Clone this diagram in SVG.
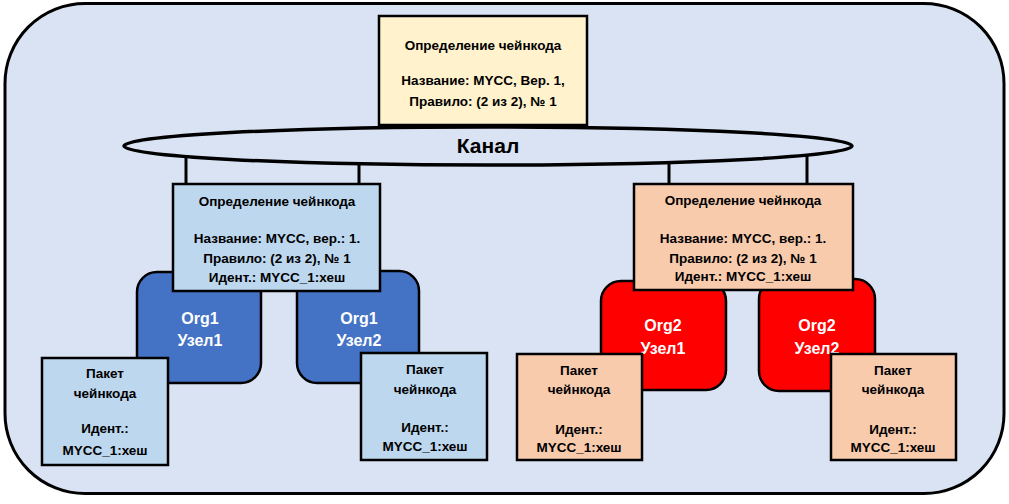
<svg xmlns="http://www.w3.org/2000/svg" width="1009" height="504" viewBox="0 0 1009 504">
<style>
.t{font-family:"Liberation Sans","Noto Sans",sans-serif;font-weight:bold;font-size:13.5px;fill:#000;text-anchor:middle}
.w{font-family:"Liberation Sans","Noto Sans",sans-serif;font-weight:bold;font-size:16px;fill:#fff;text-anchor:middle}
.k{font-family:"Liberation Sans","Noto Sans",sans-serif;font-weight:bold;font-size:21px;fill:#000;text-anchor:middle}
.box{stroke:#000;stroke-width:2.5}
.ln{stroke:#000;stroke-width:3;fill:none}
</style>
<rect id="bg" x="0" y="0" width="1009" height="504" fill="#fff"/>
<rect id="frame" x="5" y="3.5" width="999" height="490" rx="80" ry="80" fill="#DAE3F3" stroke="#000" stroke-width="3"/>
<g id="channel">
<ellipse cx="488" cy="146" rx="364" ry="19" fill="#DAE3F3" stroke="#000" stroke-width="3.5"/>
<text class="k" x="488" y="153">Канал</text>
</g>
<g id="connectors">
<line class="ln" x1="186" y1="156" x2="186" y2="184"/>
<line class="ln" x1="359" y1="162" x2="359" y2="184"/>
<line class="ln" x1="669" y1="162" x2="669" y2="184"/>
<line class="ln" x1="807" y1="156" x2="807" y2="184"/>
</g>
<g id="def-main">
<rect class="box" x="379" y="16" width="208" height="109" fill="#FFF2CC"/>
<text class="t" x="483" y="50">Определение чейнкода</text>
<text class="t" x="483" y="85">Название: MYCC, Вер. 1,</text>
<text class="t" x="483" y="106">Правило: (2 из 2), № 1</text>
</g>
<g id="org1-node1">
<rect class="box" x="137" y="272" width="124" height="111" rx="20" fill="#4472C4"/>
<text class="w" x="200" y="324">Org1</text>
<text class="w" x="200" y="346">Узел1</text>
</g>
<g id="org1-node2">
<rect class="box" x="297" y="271" width="122" height="112" rx="20" fill="#4472C4"/>
<text class="w" x="359" y="324">Org1</text>
<text class="w" x="359" y="346">Узел2</text>
</g>
<g id="org2-node1">
<rect class="box" x="601" y="281" width="125" height="109" rx="20" fill="#FF0000"/>
<text class="w" x="663" y="331">Org2</text>
<text class="w" x="663" y="354">Узел1</text>
</g>
<g id="org2-node2">
<rect class="box" x="759" y="279" width="116" height="112" rx="20" fill="#FF0000"/>
<text class="w" x="817" y="331">Org2</text>
<text class="w" x="817" y="354">Узел2</text>
</g>
<g id="def-org1">
<rect class="box" x="173" y="184" width="207" height="107" fill="#BDD7EE"/>
<text class="t" x="277" y="206">Определение чейнкода</text>
<text class="t" x="277" y="243">Название: MYCC, вер.: 1.</text>
<text class="t" x="277" y="263">Правило: (2 из 2), № 1</text>
<text class="t" x="277" y="282">Идент.:  MYCC_1:хеш</text>
</g>
<g id="def-org2">
<rect class="box" x="634" y="184" width="219" height="106" fill="#F8CBAD"/>
<text class="t" x="743" y="205">Определение чейнкода</text>
<text class="t" x="743" y="243">Название: MYCC, вер.: 1.</text>
<text class="t" x="743" y="263">Правило: (2 из 2), № 1</text>
<text class="t" x="743" y="281">Идент.:  MYCC_1:хеш</text>
</g>
<g id="pkg-org1-node1">
<rect class="box" x="42" y="358" width="126" height="107" fill="#BDD7EE"/>
<text class="t" x="105" y="378">Пакет</text>
<text class="t" x="105" y="398">чейнкода</text>
<text class="t" x="105" y="433">Идент.:</text>
<text class="t" x="105" y="455">MYCC_1:хеш</text>
</g>
<g id="pkg-org1-node2">
<rect class="box" x="361" y="353" width="126" height="107" fill="#BDD7EE"/>
<text class="t" x="425" y="374">Пакет</text>
<text class="t" x="425" y="394">чейнкода</text>
<text class="t" x="425" y="432">Идент.:</text>
<text class="t" x="425" y="451">MYCC_1:хеш</text>
</g>
<g id="pkg-org2-node1">
<rect class="box" x="517" y="354" width="125" height="106" fill="#F8CBAD"/>
<text class="t" x="579" y="375">Пакет</text>
<text class="t" x="579" y="394">чейнкода</text>
<text class="t" x="579" y="434">Идент.:</text>
<text class="t" x="579" y="452">MYCC_1:хеш</text>
</g>
<g id="pkg-org2-node2">
<rect class="box" x="831" y="354" width="125" height="106" fill="#F8CBAD"/>
<text class="t" x="893" y="375">Пакет</text>
<text class="t" x="893" y="394">чейнкода</text>
<text class="t" x="893" y="434">Идент.:</text>
<text class="t" x="893" y="452">MYCC_1:хеш</text>
</g>
</svg>
